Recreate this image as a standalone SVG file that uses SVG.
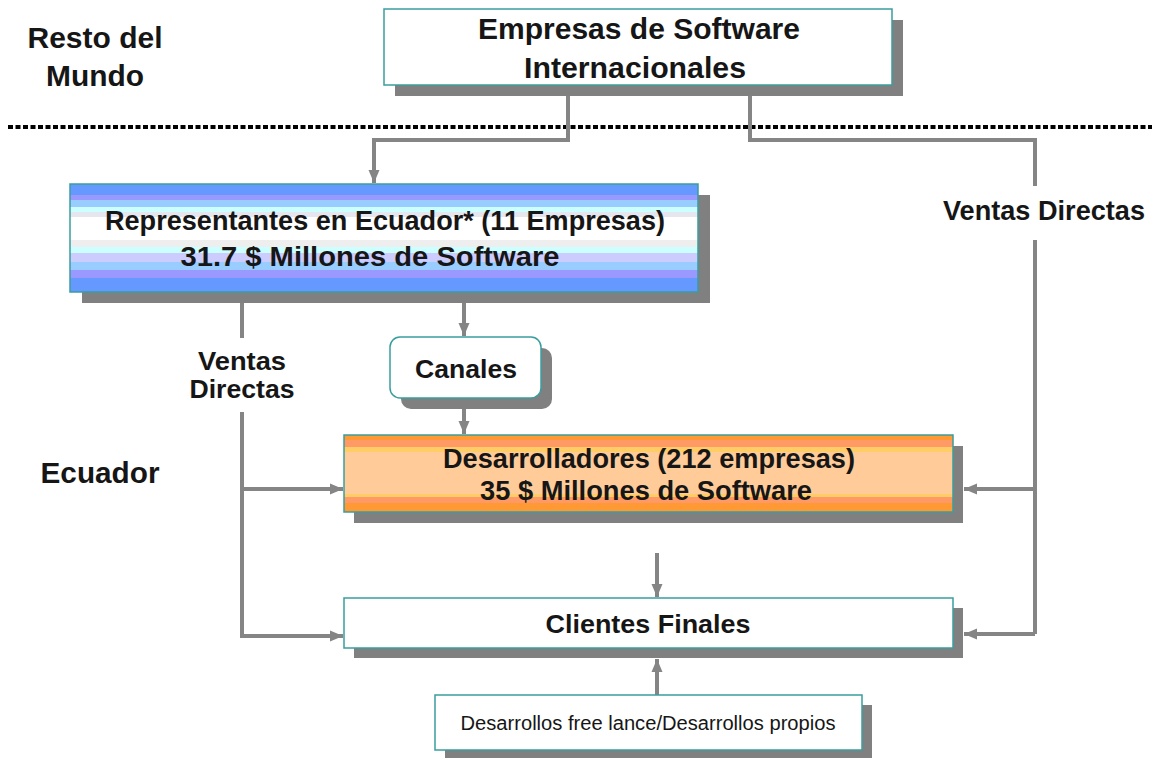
<svg xmlns="http://www.w3.org/2000/svg" width="1159" height="758" viewBox="0 0 1159 758">
<style>
  .t{font-family:"Liberation Sans",Arial,sans-serif;font-weight:bold;fill:#161616;text-anchor:middle}
  .r{font-family:"Liberation Sans",Arial,sans-serif;fill:#161616;text-anchor:middle}
  .box{stroke:#3a9d9d;stroke-width:1.5}
  .sh{fill:#808080}
  .ln{fill:none;stroke:#858585;stroke-width:4}
</style>
<defs>
  <marker id="ah" markerUnits="userSpaceOnUse" markerWidth="14" markerHeight="14" viewBox="0 0 14 14" refX="13" refY="7" orient="auto">
    <path d="M0,1.5 L13,7 L0,12.5 Z" fill="#858585"/>
  </marker>
  <linearGradient id="blue" x1="0" y1="0" x2="0" y2="1">
    <stop offset="0" stop-color="#6699FF"/><stop offset="0.10" stop-color="#6699FF"/>
    <stop offset="0.10" stop-color="#9999FF"/><stop offset="0.15" stop-color="#9999FF"/>
    <stop offset="0.15" stop-color="#99CCFF"/><stop offset="0.21" stop-color="#99CCFF"/>
    <stop offset="0.21" stop-color="#CCFFFF"/><stop offset="0.26" stop-color="#CCFFFF"/>
    <stop offset="0.26" stop-color="#E6E6EE"/><stop offset="0.31" stop-color="#E6E6EE"/>
    <stop offset="0.31" stop-color="#FFFFFF"/><stop offset="0.52" stop-color="#FFFFFF"/>
    <stop offset="0.52" stop-color="#EEEEEE"/><stop offset="0.58" stop-color="#EEEEEE"/>
    <stop offset="0.58" stop-color="#CCFFFF"/><stop offset="0.64" stop-color="#CCFFFF"/>
    <stop offset="0.64" stop-color="#CCCCFF"/><stop offset="0.72" stop-color="#CCCCFF"/>
    <stop offset="0.72" stop-color="#99CCFF"/><stop offset="0.80" stop-color="#99CCFF"/>
    <stop offset="0.80" stop-color="#9999FF"/><stop offset="0.87" stop-color="#9999FF"/>
    <stop offset="0.87" stop-color="#6699FF"/><stop offset="1" stop-color="#6699FF"/>
  </linearGradient>
  <linearGradient id="orange" x1="0" y1="0" x2="0" y2="1">
    <stop offset="0" stop-color="#FF9933"/><stop offset="0.07" stop-color="#FF9933"/>
    <stop offset="0.07" stop-color="#FF9966"/><stop offset="0.16" stop-color="#FF9966"/>
    <stop offset="0.16" stop-color="#FFCC66"/><stop offset="0.22" stop-color="#FFCC66"/>
    <stop offset="0.22" stop-color="#FFCC99"/><stop offset="0.76" stop-color="#FFCC99"/>
    <stop offset="0.76" stop-color="#FFCC66"/><stop offset="0.80" stop-color="#FFCC66"/>
    <stop offset="0.80" stop-color="#FF9966"/><stop offset="0.885" stop-color="#FF9966"/>
    <stop offset="0.885" stop-color="#FF9933"/><stop offset="1" stop-color="#FF9933"/>
  </linearGradient>
</defs>
<rect width="1159" height="758" fill="#FFFFFF"/>

<g id="region-labels">
  <text class="t" x="95" y="48" font-size="29" textLength="135" lengthAdjust="spacingAndGlyphs">Resto del</text>
  <text class="t" x="95" y="86" font-size="29" textLength="98" lengthAdjust="spacingAndGlyphs">Mundo</text>
  <text class="t" x="100" y="483" font-size="29" textLength="119" lengthAdjust="spacingAndGlyphs">Ecuador</text>
  <line x1="8" y1="127" x2="1152" y2="127" stroke="#000" stroke-width="4" stroke-dasharray="5 2.5"/>
</g>

<g id="connectors">
  <polyline class="ln" points="568,84 568,140 374,140 374,183" marker-end="url(#ah)"/>
  <polyline class="ln" points="750,84 750,140 1035,140 1035,186"/>
  <polyline class="ln" points="1035,240 1035,634"/>
  <line class="ln" x1="1035" y1="489" x2="964" y2="489" marker-end="url(#ah)"/>
  <line class="ln" x1="1035" y1="634" x2="964" y2="634" marker-end="url(#ah)"/>
  <line class="ln" x1="242" y1="300" x2="242" y2="338"/>
  <polyline class="ln" points="242,412 242,636 343,636" marker-end="url(#ah)"/>
  <line class="ln" x1="242" y1="489" x2="343" y2="489" marker-end="url(#ah)"/>
  <line class="ln" x1="464" y1="300" x2="464" y2="336" marker-end="url(#ah)"/>
  <line class="ln" x1="464" y1="405" x2="464" y2="434" marker-end="url(#ah)"/>
  <line class="ln" x1="657" y1="553" x2="657" y2="597" marker-end="url(#ah)"/>
  <line class="ln" x1="657" y1="695" x2="657" y2="659" marker-end="url(#ah)"/>
  <text class="t" x="1044" y="220" font-size="27" textLength="202" lengthAdjust="spacingAndGlyphs">Ventas Directas</text>
  <text class="t" x="242" y="370" font-size="26" textLength="88" lengthAdjust="spacingAndGlyphs">Ventas</text>
  <text class="t" x="242" y="398" font-size="26" textLength="105" lengthAdjust="spacingAndGlyphs">Directas</text>
</g>

<g id="empresas-internacionales">
  <rect class="sh" x="395" y="20" width="508" height="76"/>
  <rect class="box" x="384" y="9" width="508" height="76" fill="#FFFFFF"/>
  <text class="t" x="639" y="39" font-size="30" textLength="322" lengthAdjust="spacingAndGlyphs">Empresas de Software</text>
  <text class="t" x="635" y="78" font-size="30" textLength="222" lengthAdjust="spacingAndGlyphs">Internacionales</text>
</g>

<g id="representantes">
  <rect class="sh" x="82" y="195" width="628" height="108"/>
  <rect class="box" x="70" y="184" width="628" height="108" fill="url(#blue)"/>
  <text class="t" x="385" y="230" font-size="27" textLength="560" lengthAdjust="spacingAndGlyphs">Representantes en Ecuador* (11 Empresas)</text>
  <text class="t" x="370" y="266" font-size="27" textLength="379" lengthAdjust="spacingAndGlyphs">31.7 $ Millones de Software</text>
</g>

<g id="canales">
  <rect class="sh" x="401" y="348" width="151" height="61" rx="10"/>
  <rect class="box" x="390" y="337" width="151" height="61" rx="10" fill="#FFFFFF"/>
  <text class="t" x="466" y="378" font-size="26" textLength="102" lengthAdjust="spacingAndGlyphs">Canales</text>
</g>

<g id="desarrolladores">
  <rect class="sh" x="354" y="446" width="609" height="77"/>
  <rect class="box" x="344" y="435" width="609" height="77" fill="url(#orange)"/>
  <text class="t" x="649" y="468" font-size="27" textLength="412" lengthAdjust="spacingAndGlyphs">Desarrolladores (212 empresas)</text>
  <text class="t" x="646" y="500" font-size="27" textLength="332" lengthAdjust="spacingAndGlyphs">35 $ Millones de Software</text>
</g>

<g id="clientes-finales">
  <rect class="sh" x="354" y="608" width="609" height="50"/>
  <rect class="box" x="344" y="598" width="609" height="50" fill="#FFFFFF"/>
  <text class="t" x="648" y="633" font-size="26" textLength="205" lengthAdjust="spacingAndGlyphs">Clientes Finales</text>
</g>

<g id="desarrollos">
  <rect class="sh" x="445" y="705" width="427" height="53"/>
  <rect class="box" x="435" y="695" width="427" height="55" fill="#FFFFFF"/>
  <text class="r" x="648" y="730" font-size="20" textLength="375" lengthAdjust="spacingAndGlyphs">Desarrollos free lance/Desarrollos propios</text>
</g>
</svg>
